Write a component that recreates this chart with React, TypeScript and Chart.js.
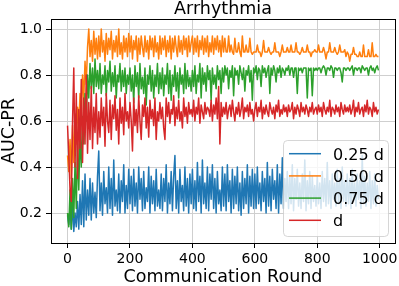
import React, { useEffect, useRef } from "react";
import { Chart, registerables } from "chart.js";

Chart.register(...registerables);

const chartTitle = "Arrhythmia";
const xAxisTitle = "Communication Round";
const yAxisTitle = "AUC-PR";
const seriesLabels = ["0.25 d", "0.50 d", "0.75 d", "d"];
const seriesColors = ["#1f77b4", "#ff7f0e", "#2ca02c", "#d62728"];
const xTickValues = [0, 200, 400, 600, 800, 1000];
const yTickValues = [0.2, 0.4, 0.6, 0.8, 1.0];
const roundStep = 4;

// AUC-PR sampled every 4 communication rounds (0..996)
const aucQuarter = [
  0.19,0.15,0.22,0.13,0.24,0.12,0.2,0.14,0.25,0.13,0.28,0.15,0.34,0.14,0.37,0.17,0.3,0.19,0.35,0.17,0.33,0.2,0.29,0.18,0.36,
  0.47,0.21,0.33,0.19,0.38,0.24,0.31,0.2,0.4,0.22,0.35,0.19,0.43,0.23,0.3,0.21,0.37,0.2,0.34,0.25,0.41,0.2,0.32,0.22,0.39,
  0.24,0.36,0.21,0.39,0.23,0.33,0.2,0.4,0.26,0.35,0.21,0.38,0.22,0.31,0.25,0.4,0.2,0.36,0.24,0.34,0.21,0.39,0.23,0.3,0.22,
  0.37,0.21,0.35,0.25,0.41,0.2,0.33,0.24,0.38,0.21,0.36,0.45,0.22,0.34,0.2,0.39,0.25,0.32,0.21,0.4,0.23,0.35,0.2,0.37,0.24,
  0.39,0.22,0.34,0.21,0.42,0.25,0.36,0.2,0.43,0.24,0.33,0.22,0.4,0.21,0.37,0.26,0.41,0.22,0.35,0.2,0.38,0.24,0.3,0.21,0.4,
  0.23,0.37,0.21,0.41,0.25,0.34,0.2,0.39,0.22,0.36,0.24,0.4,0.21,0.33,0.19,0.38,0.22,0.35,0.24,0.41,0.2,0.36,0.23,0.39,0.22,
  0.37,0.22,0.4,0.24,0.33,0.21,0.38,0.25,0.35,0.2,0.42,0.23,0.36,0.21,0.39,0.26,0.34,0.22,0.41,0.2,0.37,0.24,0.44,0.22,0.35,
  0.25,0.38,0.22,0.36,0.24,0.41,0.21,0.35,0.26,0.39,0.23,0.33,0.22,0.37,0.25,0.43,0.21,0.34,0.24,0.38,0.22,0.36,0.25,0.32,0.23,
  0.36,0.24,0.33,0.22,0.38,0.25,0.35,0.23,0.42,0.24,0.34,0.22,0.37,0.26,0.33,0.23,0.39,0.24,0.35,0.22,0.4,0.25,0.34,0.23,0.37,
  0.24,0.35,0.22,0.39,0.25,0.33,0.23,0.37,0.26,0.34,0.22,0.45,0.24,0.36,0.23,0.33,0.25,0.38,0.22,0.34,0.24,0.37,0.23,0.32,0.26,
];

const aucHalf = [
  0.45,0.38,0.52,0.35,0.58,0.42,0.63,0.5,0.66,0.58,0.72,0.62,0.8,0.7,0.86,0.76,0.92,1.0,0.88,0.95,0.86,0.99,0.89,0.96,0.87,
  0.97,0.88,1.0,0.9,0.95,0.86,0.98,0.89,0.96,0.91,0.99,0.87,0.95,0.9,0.97,0.88,1.0,0.89,0.94,0.87,0.97,0.9,0.96,0.88,0.98,
  0.9,0.97,0.87,0.95,0.91,0.97,0.86,0.96,0.89,0.97,0.92,0.88,0.97,0.9,0.95,0.87,0.97,0.91,0.96,0.88,0.97,0.9,0.94,0.87,0.97,
  0.89,0.96,0.91,0.97,0.88,0.95,0.9,0.97,0.87,0.96,0.9,0.97,0.92,0.88,0.97,0.9,0.95,0.89,0.97,0.91,0.96,0.88,0.97,0.9,0.94,
  0.97,0.89,0.96,0.9,0.97,0.88,0.95,0.91,0.97,0.89,0.96,0.9,0.97,0.88,0.94,0.9,0.97,0.89,0.96,0.91,0.97,0.9,0.95,0.88,0.97,
  0.9,0.96,0.9,0.9,0.97,0.9,0.93,0.9,0.89,0.96,0.9,0.9,0.94,0.9,0.88,0.97,0.9,0.9,0.93,0.9,0.9,0.96,0.9,0.89,0.9,
  0.9,0.9,0.93,0.9,0.9,0.88,0.9,0.95,0.9,0.9,0.9,0.92,0.9,0.89,0.9,0.9,0.94,0.9,0.9,0.9,0.88,0.9,0.93,0.9,0.9,
  0.9,0.92,0.9,0.9,0.93,0.9,0.9,0.9,0.94,0.9,0.9,0.89,0.9,0.92,0.9,0.9,0.9,0.93,0.9,0.9,0.88,0.9,0.9,0.91,0.9,
  0.9,0.93,0.9,0.9,0.9,0.92,0.9,0.87,0.9,0.9,0.94,0.9,0.9,0.9,0.92,0.9,0.89,0.9,0.93,0.9,0.9,0.9,0.91,0.88,0.9,
  0.89,0.86,0.89,0.89,0.92,0.89,0.89,0.88,0.88,0.9,0.88,0.88,0.93,0.88,0.88,0.88,0.91,0.88,0.88,0.94,0.88,0.88,0.89,0.88,0.88,
];

const aucThreeQuarter = [
  0.2,0.14,0.3,0.13,0.35,0.18,0.42,0.22,0.5,0.3,0.55,0.4,0.62,0.5,0.72,0.6,0.8,0.7,0.85,0.74,0.83,0.72,0.87,0.75,0.82,
  0.74,0.85,0.72,0.8,0.76,0.84,0.71,0.82,0.77,0.86,0.73,0.81,0.75,0.84,0.7,0.8,0.77,0.85,0.73,0.82,0.75,0.83,0.72,0.8,0.76,
  0.83,0.73,0.8,0.68,0.84,0.75,0.81,0.7,0.85,0.74,0.79,0.72,0.83,0.67,0.8,0.76,0.84,0.73,0.82,0.7,0.8,0.75,0.85,0.72,0.81,
  0.74,0.83,0.71,0.8,0.76,0.85,0.72,0.82,0.69,0.8,0.75,0.84,0.73,0.81,0.7,0.83,0.76,0.8,0.72,0.85,0.74,0.82,0.75,0.79,0.73,
  0.82,0.75,0.84,0.72,0.8,0.77,0.85,0.7,0.83,0.76,0.81,0.73,0.84,0.78,0.82,0.69,0.83,0.76,0.8,0.74,0.84,0.78,0.82,0.72,0.83,
  0.77,0.84,0.8,0.83,0.74,0.82,0.79,0.84,0.71,0.83,0.8,0.82,0.76,0.84,0.81,0.78,0.83,0.73,0.82,0.8,0.84,0.77,0.82,0.69,0.83,
  0.81,0.84,0.78,0.83,0.82,0.75,0.84,0.81,0.83,0.79,0.82,0.84,0.72,0.83,0.8,0.84,0.82,0.77,0.83,0.81,0.84,0.79,0.83,0.82,0.8,
  0.83,0.82,0.84,0.8,0.83,0.83,0.79,0.83,0.83,0.72,0.83,0.82,0.83,0.81,0.83,0.83,0.83,0.7,0.83,0.82,0.83,0.71,0.83,0.82,0.83,
  0.82,0.83,0.83,0.81,0.83,0.84,0.83,0.8,0.83,0.83,0.82,0.84,0.83,0.79,0.83,0.83,0.82,0.83,0.83,0.81,0.77,0.83,0.83,0.82,0.83,
  0.83,0.82,0.83,0.84,0.8,0.83,0.83,0.82,0.83,0.83,0.81,0.84,0.83,0.82,0.83,0.83,0.8,0.83,0.84,0.82,0.83,0.81,0.83,0.84,0.82,
];

const aucFull = [
  0.58,0.45,0.3,0.25,0.6,0.83,0.4,0.72,0.35,0.65,0.48,0.78,0.42,0.7,0.5,0.8,0.46,0.68,0.52,0.75,0.48,0.66,0.55,0.72,0.5,
  0.64,0.53,0.7,0.58,0.66,0.49,0.72,0.6,0.55,0.69,0.52,0.67,0.61,0.71,0.56,0.65,0.5,0.7,0.59,0.66,0.54,0.72,0.6,0.64,0.57,
  0.68,0.6,0.47,0.7,0.58,0.65,0.55,0.71,0.6,0.52,0.67,0.62,0.7,0.57,0.66,0.53,0.69,0.61,0.65,0.58,0.7,0.52,0.64,0.6,0.68,
  0.61,0.66,0.57,0.52,0.7,0.62,0.68,0.59,0.65,0.63,0.71,0.58,0.66,0.61,0.69,0.6,0.64,0.57,0.7,0.62,0.66,0.59,0.68,0.63,0.65,
  0.62,0.69,0.6,0.66,0.63,0.7,0.59,0.67,0.64,0.61,0.68,0.63,0.66,0.65,0.62,0.69,0.6,0.67,0.63,0.7,0.61,0.75,0.5,0.68,0.62,
  0.66,0.63,0.68,0.61,0.65,0.67,0.62,0.69,0.64,0.6,0.66,0.63,0.68,0.62,0.65,0.7,0.61,0.66,0.64,0.67,0.62,0.68,0.63,0.65,0.6,
  0.65,0.68,0.62,0.66,0.64,0.69,0.61,0.66,0.63,0.67,0.64,0.62,0.68,0.65,0.63,0.66,0.61,0.67,0.64,0.69,0.62,0.65,0.63,0.67,0.64,
  0.66,0.62,0.67,0.64,0.65,0.68,0.61,0.66,0.63,0.67,0.65,0.62,0.68,0.64,0.66,0.63,0.67,0.65,0.62,0.66,0.64,0.68,0.63,0.65,0.66,
  0.63,0.67,0.64,0.66,0.62,0.68,0.65,0.63,0.66,0.64,0.69,0.62,0.66,0.65,0.63,0.67,0.64,0.66,0.62,0.68,0.65,0.63,0.67,0.64,0.66,
  0.64,0.67,0.63,0.65,0.69,0.62,0.66,0.64,0.68,0.63,0.65,0.66,0.62,0.67,0.64,0.69,0.63,0.66,0.65,0.62,0.68,0.64,0.66,0.63,0.65,
];

const seriesValues = [aucQuarter, aucHalf, aucThreeQuarter, aucFull];

const FONT = "'DejaVu Sans', sans-serif";

const decorPlugin = {
  id: "decor",
  afterDatasetsDraw(chart: any) {
    const { ctx, chartArea: a } = chart;
    ctx.save();
    // frame
    ctx.strokeStyle = "#000";
    ctx.lineWidth = 1;
    ctx.strokeRect(a.left + 0.5, a.top + 0.5, a.right - a.left, a.bottom - a.top);

    // legend
    const lx = 283.5, ly = 140.5, lw = 105, lh = 96, r = 4;
    ctx.beginPath();
    ctx.moveTo(lx + r, ly);
    ctx.lineTo(lx + lw - r, ly);
    ctx.arcTo(lx + lw, ly, lx + lw, ly + r, r);
    ctx.lineTo(lx + lw, ly + lh - r);
    ctx.arcTo(lx + lw, ly + lh, lx + lw - r, ly + lh, r);
    ctx.lineTo(lx + r, ly + lh);
    ctx.arcTo(lx, ly + lh, lx, ly + lh - r, r);
    ctx.lineTo(lx, ly + r);
    ctx.arcTo(lx, ly, lx + r, ly, r);
    ctx.closePath();
    ctx.fillStyle = "rgba(255,255,255,0.8)";
    ctx.fill();
    ctx.strokeStyle = "rgba(204,204,204,0.8)";
    ctx.lineWidth = 1;
    ctx.stroke();

    const fs = 16;
    ctx.font = `${fs}px ${FONT}`;
    ctx.textAlign = "left";
    ctx.textBaseline = "alphabetic";
    seriesLabels.forEach((lab, i) => {
      const yy = 153.7 + i * 22.2;
      ctx.strokeStyle = seriesColors[i];
      ctx.lineWidth = 1.5;
      ctx.beginPath();
      ctx.moveTo(289, yy);
      ctx.lineTo(321, yy);
      ctx.stroke();
      ctx.fillStyle = "#000";
      ctx.fillText(lab, 333, yy + 0.365 * fs);
    });

    // titles
    const cx = (a.left + a.right) / 2;
    ctx.fillStyle = "#000";
    ctx.textAlign = "center";
    ctx.font = `17.5px ${FONT}`;
    ctx.fillText(chartTitle, cx, 13.5);
    ctx.fillText(xAxisTitle, cx, 281.5);
    ctx.save();
    ctx.translate(13.5, (a.top + a.bottom) / 2);
    ctx.rotate(-Math.PI / 2);
    ctx.fillText(yAxisTitle, 0, 0);
    ctx.restore();
    ctx.restore();
  },
};

export default function App() {
  const ref = useRef<HTMLCanvasElement>(null);
  useEffect(() => {
    document.body.style.margin = "0";
    const canvas = ref.current;
    if (!canvas) return;
    const datasets = seriesValues.map((vals, i) => ({
      label: seriesLabels[i],
      data: vals.map((v, k) => ({ x: k * roundStep, y: v })),
      borderColor: seriesColors[i],
      backgroundColor: seriesColors[i],
      borderWidth: 1.5,
      pointRadius: 0,
      tension: 0,
      borderJoinStyle: "round" as const,
      fill: false,
      order: seriesValues.length - 1 - i,
    }));
    const chart = new Chart(canvas, {
      type: "line",
      data: { datasets },
      plugins: [decorPlugin],
      options: {
        animation: false,
        responsive: false,
        devicePixelRatio: 1,
        layout: { padding: { top: 19, right: 4, left: 0, bottom: 0 } },
        plugins: {
          legend: { display: false },
          title: { display: false },
          tooltip: { enabled: false },
        },
        scales: {
          x: {
            type: "linear",
            min: -53,
            max: 1049,
            afterBuildTicks: (s: any) => {
              s.ticks = xTickValues.map((v) => ({ value: v }));
            },
            afterFit: (s: any) => {
              s.height = 43;
              s.paddingLeft = 0;
              s.paddingRight = 0;
            },
            ticks: {
              autoSkip: false,
              maxRotation: 0,
              padding: 3,
              color: "#000",
              font: { family: FONT, size: 14 },
              callback: (v: any) => String(v),
            },
            grid: {
              color: "#cfcfcf",
              lineWidth: 1,
              tickColor: "#000",
              tickLength: 5,
              drawTicks: true,
            },
            border: { display: false },
          },
          y: {
            type: "linear",
            min: 0.0696,
            max: 1.0435,
            afterBuildTicks: (s: any) => {
              s.ticks = yTickValues.map((v) => ({ value: v }));
            },
            afterFit: (s: any) => {
              s.width = 51;
              s.paddingTop = 0;
              s.paddingBottom = 0;
            },
            ticks: {
              autoSkip: false,
              padding: 4,
              color: "#000",
              font: { family: FONT, size: 14 },
              callback: (v: any) => Number(v).toFixed(1),
            },
            grid: {
              color: "#cfcfcf",
              lineWidth: 1,
              tickColor: "#000",
              tickLength: 5,
              drawTicks: true,
            },
            border: { display: false },
          },
        },
      },
    });
    return () => chart.destroy();
  }, []);
  return (
    <div style={{ position: "fixed", left: 0, top: 0, width: 399, height: 286, background: "#fff" }}>
      <canvas ref={ref} width={399} height={286} style={{ display: "block" }} />
    </div>
  );
}
